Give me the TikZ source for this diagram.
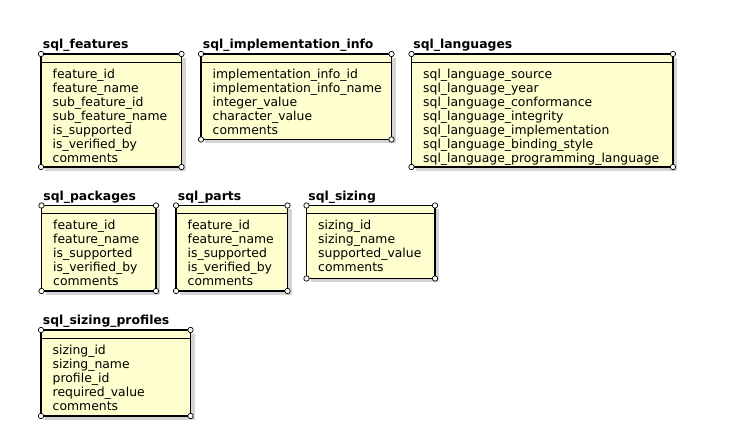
\documentclass[tikz,border=0pt]{standalone}
\usepackage{fontspec}
\setmainfont{DejaVu Sans}
\definecolor{entfill}{HTML}{FEFECE}
\definecolor{shadowc}{HTML}{D4D4D4}
\tikzset{
  entborder/.style={draw=black, line width=1.8pt, fill=entfill},
  entsep/.style={draw=black, line width=0.9pt},
  entshadow/.style={fill=shadowc},
  corner/.style={circle, draw=black, fill=white, line width=0.7pt, inner sep=0pt, minimum size=5.4bp},
  rowtext/.style={inner sep=0pt, anchor=base west, font=\fontsize{12.4bp}{14bp}\selectfont},
  titletext/.style={inner sep=0pt, anchor=base west, font=\fontsize{12.4bp}{14bp}\selectfont\bfseries},
}
% #1 name, #2 left, #3 top, #4 right, #5 bottom, #6 title, #7 rows
\newcommand{\erent}[7]{%
  \fill[entshadow] ({#2+4},{#3+4}) rectangle ({#4+4},{#5+4});
  \draw[entborder] (#2,#3) rectangle (#4,#5);
  \draw[entsep] (#2,{#3+8}) -- (#4,{#3+8});
  \node[titletext] (#1-title) at ({#2+1.7},{#3-5}) {#6};
  \foreach \r [count=\i] in {#7} {
    \node[rowtext] (#1-\i) at ({#2+11.5},{#3+24.3+14*(\i-1)}) {\r};
  }
  \node[corner] (#1-nw) at (#2,#3) {};
  \node[corner] (#1-ne) at (#4,#3) {};
  \node[corner] (#1-sw) at (#2,#5) {};
  \node[corner] (#1-se) at (#4,#5) {};
}
\begin{document}
\begin{tikzpicture}[x=1bp,y=-1bp]
\fill[white] (0,0) rectangle (736,448);
\useasboundingbox (0,0) rectangle (736,448);
\erent{features}{41}{54}{181.5}{167}{sql\_features}{feature\_id,feature\_name,sub\_feature\_id,sub\_feature\_name,is\_supported,is\_verified\_by,comments}
\erent{impl}{201}{54}{391.5}{139.5}{sql\_implementation\_info}{implementation\_info\_id,implementation\_info\_name,integer\_value,character\_value,comments}
\erent{lang}{411.5}{54}{673}{167}{sql\_languages}{sql\_language\_source,sql\_language\_year,sql\_language\_conformance,sql\_language\_integrity,sql\_language\_implementation,sql\_language\_binding\_style,sql\_language\_programming\_language}
\erent{packages}{41.5}{205.5}{156}{291}{sql\_packages}{feature\_id,feature\_name,is\_supported,is\_verified\_by,comments}
\erent{parts}{176}{205.5}{287.5}{291}{sql\_parts}{feature\_id,feature\_name,is\_supported,is\_verified\_by,comments}
\erent{sizing}{306.5}{205.5}{435}{278.5}{sql\_sizing}{sizing\_id,sizing\_name,supported\_value,comments}
\erent{profiles}{41}{330}{190.5}{416}{sql\_sizing\_profiles}{sizing\_id,sizing\_name,profile\_id,required\_value,comments}
\end{tikzpicture}
\end{document}
